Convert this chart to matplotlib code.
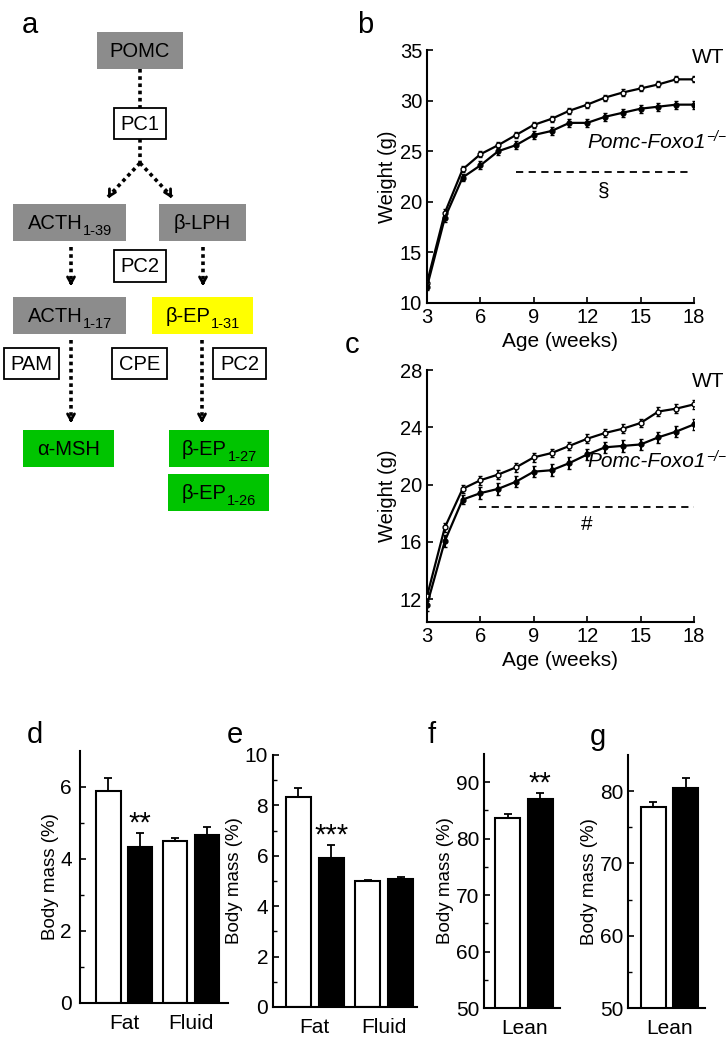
import numpy as np
import matplotlib
matplotlib.use("Agg")
import matplotlib.pyplot as plt
from matplotlib.patches import Rectangle

plt.rcParams['font.family'] = ['Liberation Sans', 'DejaVu Sans']

# ---------------- data ----------------
weeks = [3, 4, 5, 6, 7, 8, 9, 10, 11, 12, 13, 14, 15, 16, 17, 18]

# panel b (males)
b_wt = [12.0, 18.9, 23.2, 24.7, 25.6, 26.6, 27.6, 28.2, 29.0, 29.6, 30.3, 30.8, 31.2, 31.6, 32.1, 32.1]
b_wt_err = [0.3, 0.4, 0.3, 0.3, 0.3, 0.3, 0.3, 0.3, 0.3, 0.3, 0.3, 0.3, 0.3, 0.3, 0.3, 0.3]
b_ko = [11.6, 18.4, 22.4, 23.6, 25.0, 25.6, 26.6, 27.0, 27.8, 27.8, 28.4, 28.8, 29.2, 29.4, 29.6, 29.6]
b_ko_err = [0.3, 0.4, 0.3, 0.4, 0.4, 0.4, 0.4, 0.4, 0.4, 0.4, 0.4, 0.4, 0.4, 0.4, 0.4, 0.4]

# panel c (females)
c_wt = [12.2, 17.0, 19.7, 20.3, 20.7, 21.2, 21.9, 22.2, 22.7, 23.2, 23.6, 23.9, 24.3, 25.1, 25.3, 25.6]
c_wt_err = [0.3, 0.3, 0.3, 0.3, 0.3, 0.3, 0.3, 0.3, 0.3, 0.3, 0.3, 0.3, 0.3, 0.3, 0.3, 0.3]
c_ko = [11.6, 16.05, 18.95, 19.4, 19.7, 20.2, 20.9, 21.0, 21.5, 22.1, 22.6, 22.7, 22.8, 23.3, 23.7, 24.2]
c_ko_err = [0.4, 0.4, 0.3, 0.4, 0.4, 0.4, 0.4, 0.4, 0.4, 0.4, 0.4, 0.4, 0.4, 0.4, 0.4, 0.4]

# body composition
d_groups = ['Fat', 'Fluid']
d_wt, d_wt_err = [5.9, 4.5], [0.36, 0.07]
d_ko, d_ko_err = [4.33, 4.68], [0.39, 0.2]
e_groups = ['Fat', 'Fluid']
e_wt, e_wt_err = [8.33, 5.0], [0.37, 0.05]
e_ko, e_ko_err = [5.93, 5.07], [0.5, 0.1]
f_groups = ['Lean']
f_wt, f_wt_err = [83.6], [0.7]
f_ko, f_ko_err = [87.1], [1.0]
g_groups = ['Lean']
g_wt, g_wt_err = [77.8], [0.65]
g_ko, g_ko_err = [80.4], [1.35]

# panel a diagram boxes: label, subscript, x0, y0, x1, y1 (pixels), fill
GRAY = '#8c8c8c'
GREEN = '#00c400'
YELLOW = '#ffff00'
boxes = [
    ('POMC', None, 97, 32, 183, 69, GRAY),
    ('PC1', None, 114, 108, 166, 139, None),
    ('ACTH', '1-39', 13, 204, 126, 241, GRAY),
    ('\u03b2-LPH', None, 159, 204, 246, 241, GRAY),
    ('PC2', None, 114, 250, 166, 282, None),
    ('ACTH', '1-17', 13, 297, 126, 334, GRAY),
    ('\u03b2-EP', '1-31', 152, 297, 253, 334, YELLOW),
    ('PAM', None, 4, 348, 59, 379, None),
    ('CPE', None, 112, 348, 167, 379, None),
    ('PC2', None, 213, 348, 266, 379, None),
    ('\u03b1-MSH', None, 23, 430, 114, 467, GREEN),
    ('\u03b2-EP', '1-27', 169, 430, 269, 467, GREEN),
    ('\u03b2-EP', '1-26', 168, 474, 269, 511, GREEN),
]
# dotted links: (x0, y0, x1, y1, arrowhead)
links = [
    (140, 69, 140, 108, False),
    (140, 139, 140, 163, False),
    (140, 163, 108, 197, True),
    (140, 163, 172, 197, True),
    (71, 247, 71, 284, True),
    (203, 247, 203, 284, True),
    (71, 340, 71, 421, True),
    (202, 340, 202, 421, True),
]

W, H = 728, 1050
fig = plt.figure(figsize=(W / 100, H / 100), dpi=100)

# ---------------- panel a ----------------
axa = fig.add_axes([0, 0, 1, 1])
axa.set_xlim(0, W)
axa.set_ylim(H, 0)
axa.axis('off')
renderer = fig.canvas.get_renderer()

for lab, sub, x0, y0, x1, y1, fill in boxes:
    if fill is None:
        axa.add_patch(Rectangle((x0, y0), x1 - x0, y1 - y0, facecolor='white',
                                edgecolor='black', lw=1.3))
    else:
        axa.add_patch(Rectangle((x0, y0), x1 - x0, y1 - y0, facecolor=fill,
                                edgecolor='none'))
    cx, cy = (x0 + x1) / 2, (y0 + y1) / 2
    t = axa.text(cx, cy + 1, lab, ha='left', va='center', fontsize=14.5)
    if sub is None:
        t.set_ha('center')
        continue
    s = axa.annotate(sub, xy=(1, 0.12), xycoords=t, xytext=(0.5, 0),
                     textcoords='offset points', ha='left', va='center', fontsize=10.5)
    w1 = t.get_window_extent(renderer).width
    w2 = s.get_window_extent(renderer).width
    t.set_x(cx - (w1 + w2) / 2)

for x0, y0, x1, y1, head in links:
    axa.plot([x0, x1], [y0, y1], color='black', lw=2.6, ls=(0, (1, 1)),
             solid_capstyle='butt')
    if head:
        dx, dy = x1 - x0, y1 - y0
        n = np.hypot(dx, dy)
        axa.annotate('', xy=(x1, y1 + 2 * dy / n), xytext=(x1 - 3 * dx / n, y1 - 3 * dy / n),
                     arrowprops=dict(arrowstyle='->,head_length=0.45,head_width=0.25',
                                     lw=2, color='black', shrinkA=0, shrinkB=0))

# panel letters
for letter, x, y in [('a', 30, 25), ('b', 365, 25), ('c', 352, 345),
                     ('d', 35, 735), ('e', 235, 735), ('f', 432, 735), ('g', 598, 737)]:
    fig.text(x / W, 1 - y / H, letter, fontsize=21, ha='center', va='center')


def style(ax, size=14.5):
    for sp in ['top', 'right']:
        ax.spines[sp].set_visible(False)
    for sp in ['left', 'bottom']:
        ax.spines[sp].set_linewidth(1.5)
    ax.tick_params(direction='in', labelsize=size, width=1.2, length=4)
    ax.tick_params(which='minor', direction='in', width=1.0, length=3)


def growth(rect, wt, wt_err, ko, ko_err, ylim, yticks, dash_y, dash_x, sym, sym_y, pomc_y, wt_y):
    ax = fig.add_axes(rect)
    ax.errorbar(weeks, wt, yerr=wt_err, fmt='-o', color='black', mfc='white', mec='black',
                ms=3.5, lw=1.6, elinewidth=1.3, capsize=1.5, zorder=3)
    ax.errorbar(weeks, ko, yerr=ko_err, fmt='-o', color='black', mfc='black',
                ms=3.5, lw=1.6, elinewidth=1.5, capsize=1.5, zorder=3)
    ax.plot(dash_x, [dash_y, dash_y], color='black', lw=1.3, ls=(0, (4, 3)))
    ax.text(np.mean(dash_x), sym_y, sym, ha='center', va='center', fontsize=15)
    ax.text(19.7, wt_y, 'WT', ha='right', va='center', fontsize=15)
    t = ax.text(18.65, pomc_y, 'Pomc-Foxo1', ha='right', va='center', fontsize=15,
                style='italic')
    ax.annotate('\u2212/\u2212', xy=(1, 0.75), xycoords=t, xytext=(0.5, 0),
                textcoords='offset points', ha='left', va='center', fontsize=10,
                style='italic')
    ax.set_xlim(3, 18)
    ax.set_ylim(*ylim)
    ax.set_xticks([3, 6, 9, 12, 15, 18])
    ax.set_yticks(yticks)
    ax.set_xlabel('Age (weeks)', fontsize=15, labelpad=4)
    ax.set_ylabel('Weight (g)', fontsize=14.5, labelpad=2)
    style(ax, 14.5)
    return ax


growth([427 / W, 1 - 303 / H, 267 / W, 253 / H], b_wt, b_wt_err, b_ko, b_ko_err,
       (10, 35), [10, 15, 20, 25, 30, 35], 22.9, [8.0, 17.9], '\u00a7', 21.0, 25.9, 34.3)
growth([427 / W, 1 - 622 / H, 267 / W, 252 / H], c_wt, c_wt_err, c_ko, c_ko_err,
       (10.4, 28), [12, 16, 20, 24, 28], 18.4, [5.9, 18.0], '#', 17.2, 21.6, 27.2)


def bars(rect, groups, wt, wt_err, ko, ko_err, xlim, ylim, major, minor, stars, pad=3.5):
    ax = fig.add_axes(rect)
    x = np.arange(len(groups))
    off, w = 0.235, 0.36
    ax.bar(x - off, wt, w, color='white', edgecolor='black', lw=1.5, zorder=2)
    ax.bar(x + off, ko, w, color='black', edgecolor='black', lw=1.5, zorder=2)
    ax.errorbar(x - off, wt, yerr=[np.zeros(len(wt)), wt_err], fmt='none', ecolor='black',
                elinewidth=1.3, capsize=3, capthick=1.3, zorder=1)
    ax.errorbar(x + off, ko, yerr=[np.zeros(len(ko)), ko_err], fmt='none', ecolor='black',
                elinewidth=1.3, capsize=3, capthick=1.3, zorder=1)
    for i, s in stars:
        ax.annotate(s, xy=(i + off, ko[i] + ko_err[i]), xytext=(0, -3),
                    textcoords='offset points', ha='center', va='bottom', fontsize=21)
    ax.set_xlim(*xlim)
    ax.set_ylim(*ylim)
    ax.set_xticks(x)
    ax.set_xticklabels(groups)
    ax.set_yticks(major)
    ax.set_yticks(minor, minor=True)
    ax.set_ylabel('Body mass (%)', fontsize=13.5, labelpad=1)
    style(ax, 15)
    ax.tick_params(axis='y', pad=pad)
    ax.tick_params(axis='x', length=0, pad=8)
    return ax


bars([80 / W, 1 - 1003 / H, 148 / W, 252 / H], d_groups, d_wt, d_wt_err, d_ko, d_ko_err,
     (-0.66, 1.55), (0, 7), [0, 2, 4, 6], [1, 3, 5], [(0, '**')], pad=6)
bars([273 / W, 1 - 1007 / H, 144 / W, 252 / H], e_groups, e_wt, e_wt_err, e_ko, e_ko_err,
     (-0.6, 1.47), (0, 10), [0, 2, 4, 6, 8, 10], [1, 3, 5, 7, 9], [(0, '***')])
bars([484 / W, 1 - 1008 / H, 76 / W, 254 / H], f_groups, f_wt, f_wt_err, f_ko, f_ko_err,
     (-0.58, 0.52), (50, 95), [50, 60, 70, 80, 90], [55, 65, 75, 85], [(0, '**')])
bars([628 / W, 1 - 1008 / H, 77 / W, 253 / H], g_groups, g_wt, g_wt_err, g_ko, g_ko_err,
     (-0.6, 0.51), (50, 85), [50, 60, 70, 80], [55, 65, 75], [])

fig.savefig('out.png', dpi=100)
